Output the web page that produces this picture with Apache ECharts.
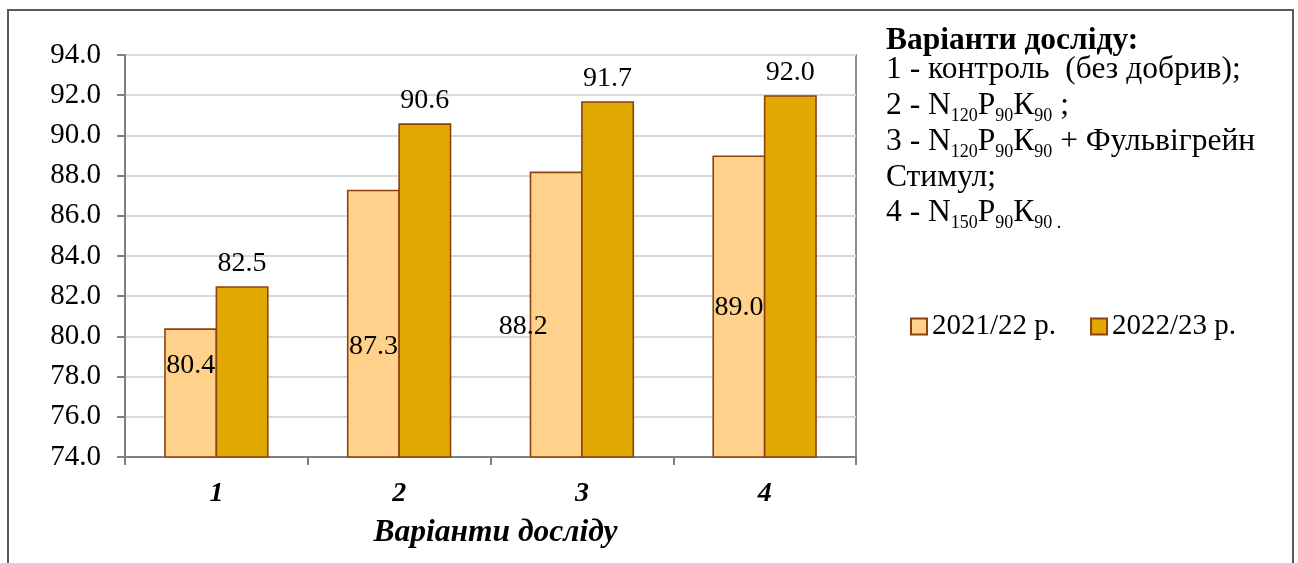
<!DOCTYPE html>
<html>
<head>
<meta charset="utf-8">
<script src="https://cdn.jsdelivr.net/npm/echarts@6/dist/echarts.min.js"></script>
<style>
  html, body { margin: 0; padding: 0; background: #ffffff; }
  #chart { width: 1298px; height: 563px; }
</style>
</head>
<body>
<div id="chart"></div>
<script>
// Variants of the experiment and the two seasons
const categories = ['1', '2', '3', '4'];
const seasonNames = ['2021/22 р.', '2022/23 р.'];
const values2122 = [80.4, 87.3, 88.2, 89.0];
const values2223 = [82.5, 90.6, 91.7, 92.0];
const yMin = 74, yMax = 94, yStep = 2;
const xAxisTitle = 'Варіанти досліду';

const FONT = "'Liberation Serif', 'Times New Roman', serif";
const FS = 28;       // axis, value and legend labels
const FS_BIG = 31.5; // axis title and the variants note
const EDGE = '#8a4210';
const LIGHT = '#ffd18a';
const DARK = '#e0a800';

// where the first season's value labels sit, relative to each bar's top edge
const lightLabelShift = [[0, 37], [0, 157], [-33, 155], [0, 152]];

const lightData = values2122.map((v, i) => ({
  value: v,
  label: {
    position: ['50%', lightLabelShift[i][1]],
    offset: [lightLabelShift[i][0], 0],
    align: 'center',
    verticalAlign: 'middle'
  }
}));

const chart = echarts.init(document.getElementById('chart'), null, { renderer: 'canvas' });

// rich-text styles for the variants note: normal text and lowered subscripts
const norm = { fontFamily: FONT, fontSize: FS_BIG, lineHeight: 38, color: '#000' };
const sub = { fontFamily: FONT, fontSize: 18, lineHeight: 17, verticalAlign: 'bottom', color: '#000' };

function noteLine(y, text, bold) {
  return {
    type: 'text', x: 886, y: y, z: 10, silent: true,
    style: {
      text: text,
      fontFamily: FONT, fontSize: FS_BIG, fontWeight: bold ? 'bold' : 'normal', fill: '#000',
      verticalAlign: 'middle', align: 'left',
      rich: { n: norm, s: sub }
    }
  };
}

chart.setOption({
  animation: false,
  backgroundColor: '#ffffff',
  textStyle: { fontFamily: FONT },
  grid: {
    left: 125, right: 442, top: 55, bottom: 106,
    show: true, borderColor: '#8c8c8c', borderWidth: 2, backgroundColor: 'transparent'
  },
  legend: {
    left: 905, top: 307,
    itemWidth: 16, itemHeight: 16, itemGap: 34,
    icon: 'rect',
    data: seasonNames,
    itemStyle: { borderColor: EDGE, borderWidth: 2 },
    textStyle: { fontFamily: FONT, fontSize: 29, color: '#000' }
  },
  xAxis: {
    type: 'category',
    data: categories,
    boundaryGap: true,
    axisLine: { lineStyle: { color: '#808080', width: 2 } },
    axisTick: { show: true, length: 8, lineStyle: { color: '#808080', width: 2 } },
    axisLabel: { fontFamily: FONT, fontSize: FS, fontWeight: 'bold', fontStyle: 'italic', color: '#000', margin: 23 },
    name: xAxisTitle,
    nameLocation: 'middle',
    nameGap: 60,
    nameTextStyle: {
      fontFamily: FONT, fontSize: FS_BIG, fontWeight: 'bold', fontStyle: 'italic', color: '#000',
      padding: [0, 0, 0, 10]
    }
  },
  yAxis: {
    type: 'value',
    min: yMin, max: yMax, interval: yStep,
    axisLine: { show: true, lineStyle: { color: '#808080', width: 2 } },
    axisTick: { show: true, length: 8, lineStyle: { color: '#808080', width: 2 } },
    axisLabel: {
      fontFamily: FONT, fontSize: 29, color: '#000', margin: 24,
      formatter: v => v.toFixed(1)
    },
    splitLine: { show: true, lineStyle: { color: '#d9d9d9', width: 2 } }
  },
  series: [
    {
      name: seasonNames[0],
      type: 'bar',
      barWidth: 53,
      barGap: '-3%',
      data: lightData,
      itemStyle: { color: LIGHT, borderColor: EDGE, borderWidth: 1.6 },
      label: {
        show: true,
        fontFamily: FONT, fontSize: FS, color: '#000',
        formatter: p => p.value.toFixed(1)
      }
    },
    {
      name: seasonNames[1],
      type: 'bar',
      barWidth: 53,
      barGap: '-3%',
      data: values2223,
      itemStyle: { color: DARK, borderColor: EDGE, borderWidth: 1.6 },
      label: {
        show: true, position: 'top', distance: 9,
        fontFamily: FONT, fontSize: FS, color: '#000',
        formatter: p => p.value.toFixed(1)
      }
    }
  ],
  graphic: [
    {
      type: 'rect', z: -1, silent: true,
      shape: { x: 8, y: 10, width: 1285, height: 620 },
      style: { fill: 'none', stroke: '#5a5a5a', lineWidth: 2 }
    },
    noteLine(41, 'Варіанти досліду:', true),
    noteLine(70, '{n|1 - контроль  (без добрив);}'),
    noteLine(106, '{n|2 - N}{s|120}{n|P}{s|90}{n|К}{s|90}{n| ;}'),
    noteLine(142, '{n|3 - N}{s|120}{n|P}{s|90}{n|К}{s|90}{n| + Фульвігрейн}'),
    noteLine(178, '{n|Стимул;}'),
    noteLine(213, '{n|4 - N}{s|150}{n|P}{s|90}{n|К}{s|90}{s| .}')
  ]
});
</script>
</body>
</html>
